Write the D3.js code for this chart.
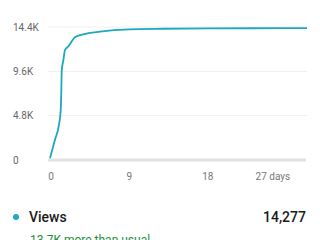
<!DOCTYPE html>
<html><head><meta charset="utf-8">
<script src="https://cdn.jsdelivr.net/npm/d3@7"></script>
<style>
html,body{margin:0;padding:0;background:#fff;overflow:hidden;}
svg{display:block;font-family:Roboto,"Noto Sans",sans-serif;}
</style></head>
<body>
<svg id="c" width="320" height="240"></svg>
<script>
const days   = [0, 0.57, 1.03, 1.23, 1.30, 1.35, 1.53, 1.72, 2.1, 2.87, 3.8, 5.74, 9.07, 13, 18, 23, 27, 29.5];
const views  = [200, 2200, 3800, 5400, 7600, 9700, 10800, 11900, 12300, 13300, 13600, 13900, 14150, 14210, 14250, 14265, 14272, 14277];
const yTicks = [0, 4800, 9600, 14400];
const yTickLabels = ["0", "4.8K", "9.6K", "14.4K"];
const xTicks = [0, 9, 18, 27];
const xTickLabels = ["0", "9", "18", "27 days"];
const seriesName = "Views";
const totalLabel = "14,277";
const noteLabel = "13.7K more than usual";

const svg = d3.select("#c");
const x = d3.scaleLinear().domain([0, 29.5]).range([50, 307]);
const y = d3.scaleLinear().domain([0, 14400]).range([160, 27]);

// gridlines
svg.append("g").selectAll("line").data(yTicks.slice(1)).join("line")
  .attr("x1", 48).attr("x2", 307)
  .attr("y1", d => y(d)).attr("y2", d => y(d))
  .attr("stroke", "#efefef").attr("stroke-width", 1);
// baseline
svg.append("line").attr("x1", 48).attr("x2", 306).attr("y1", y(0)).attr("y2", y(0))
  .attr("stroke", "#e2e2e2").attr("stroke-width", 3);

// y labels
svg.append("g").selectAll("text").data(yTicks).join("text")
  .attr("x", 13).attr("y", d => y(d)).attr("dy", "0.35em")
  .attr("font-size", 10).attr("fill", "#666")
  .text((d, i) => yTickLabels[i]);

// x labels
svg.append("g").selectAll("text").data(xTicks).join("text")
  .attr("x", (d, i) => i === xTicks.length - 1 ? x(d) + 5 : x(d) + 1)
  .attr("y", 176).attr("dy", "0.35em")
  .attr("text-anchor", (d, i) => i === xTicks.length - 1 ? "end" : "middle")
  .attr("font-size", 10).attr("fill", "#777")
  .text((d, i) => xTickLabels[i]);

// line
const data = days.map((d, i) => [d, views[i]]);
svg.append("path").datum(data)
  .attr("d", d3.line().x(d => x(d[0])).y(d => y(d[1])).curve(d3.curveMonotoneX))
  .attr("fill", "none").attr("stroke", "#1ea8bd").attr("stroke-width", 1.8)
  .attr("stroke-linejoin", "round");

// legend / summary
svg.append("circle").attr("cx", 16).attr("cy", 217).attr("r", 3).attr("fill", "#1ea8bd");
svg.append("text").attr("x", 29).attr("y", 217).attr("dy", "0.35em")
  .attr("font-size", 14).attr("font-weight", 500).attr("fill", "#1a1a1a").text(seriesName);
svg.append("text").attr("x", 306).attr("y", 217).attr("dy", "0.35em").attr("text-anchor", "end")
  .attr("font-size", 14).attr("font-weight", 500).attr("fill", "#1a1a1a").text(totalLabel);
svg.append("text").attr("x", 30).attr("y", 244)
  .attr("font-size", 12).attr("fill", "#1e8e3e").text(noteLabel);
</script>
</body></html>
